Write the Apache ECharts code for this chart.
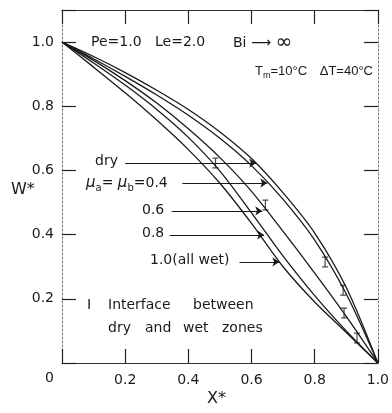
<!DOCTYPE html>
<html><head><meta charset="utf-8">
<script src="https://cdn.jsdelivr.net/npm/echarts@6/dist/echarts.min.js"></script>
<style>html,body{margin:0;padding:0;background:#fff}#c{width:392px;height:413px}</style>
</head><body><div id="c"></div>
<script>
// ---- data ----
const xGrid = [0, 0.1, 0.2, 0.3, 0.4, 0.5, 0.6, 0.7, 0.8, 0.9, 1.0];
const wDry  = [1, 0.955, 0.905, 0.85, 0.79, 0.72, 0.637, 0.53, 0.405, 0.235, 0];
const wMu04 = [1, 0.948, 0.893, 0.835, 0.772, 0.70, 0.615, 0.51, 0.383, 0.215, 0];
const wMu06 = [1, 0.943, 0.88, 0.81, 0.73, 0.64, 0.535, 0.41, 0.28, 0.145, 0];
const wMu08 = [1, 0.935, 0.866, 0.79, 0.703, 0.598, 0.468, 0.333, 0.21, 0.10, 0];
const wMu10 = [1, 0.922, 0.842, 0.757, 0.665, 0.56, 0.435, 0.30, 0.19, 0.095, 0];
// interface markers (x*, W*)
const interfaceX = [0.486, 0.644, 0.833, 0.890, 0.893, 0.934];
const interfaceW = [0.623, 0.492, 0.315, 0.227, 0.156, 0.078];
// label arrows: [xStart, xEnd, W]
const arrowDry  = [0.200, 0.615, 0.623];
const arrowMu04 = [0.381, 0.650, 0.561];
const arrowMu06 = [0.347, 0.634, 0.474];
const arrowMu08 = [0.341, 0.640, 0.399];
const arrowMu10 = [0.562, 0.688, 0.315];
const xTicks = [0.2, 0.4, 0.6, 0.8, 1.0];
const yTicks = [0.2, 0.4, 0.6, 0.8, 1.0];

const zip = (xs, ys) => xs.map((x, i) => [x, ys[i]]);
const FONT = 'DejaVu Sans';
const INK = '#1a1a1a';

const curve = (d) => ({
  type: 'line', data: zip(xGrid, d), smooth: 0.3, showSymbol: false, symbol: 'none',
  lineStyle: { color: INK, width: 1.3 }, z: 3, silent: true
});
const arrow = (a) => ({ coords: [[a[0], a[2]], [a[1], a[2]]] });

const chart = echarts.init(document.getElementById('c'), null, { renderer: 'canvas' });
const tickStyle = { show: true, inside: true, length: 14, lineStyle: { color: '#222', width: 1.2 } };
const solidLine = { show: true, onZero: false, lineStyle: { color: '#333', width: 1.2 } };
const dotLine = { show: true, onZero: false, lineStyle: { color: '#777', width: 1, type: [2, 2] } };
chart.setOption({
  animation: false,
  backgroundColor: '#fff',
  grid: { left: 62, right: 12, top: 10, bottom: 50 },
  xAxis: [
    { type: 'value', position: 'bottom', min: 0, max: 1.0, interval: 0.2,
      axisLine: solidLine, axisTick: tickStyle, splitLine: { show: false },
      axisLabel: { show: true, color: INK, fontFamily: FONT, fontSize: 14, margin: 10,
        formatter: v => (xTicks.indexOf(+v.toFixed(2)) >= 0 ? v.toFixed(1) : '') } },
    { type: 'value', position: 'top', min: 0, max: 1.0, interval: 0.2,
      axisLine: solidLine, axisTick: tickStyle, splitLine: { show: false }, axisLabel: { show: false } }
  ],
  yAxis: [
    { type: 'value', position: 'left', min: 0, max: 1.1, interval: 0.2,
      axisLine: dotLine, axisTick: tickStyle, splitLine: { show: false },
      axisLabel: { show: true, color: INK, fontFamily: FONT, fontSize: 14, margin: 8,
        formatter: v => (yTicks.indexOf(+v.toFixed(2)) >= 0 ? v.toFixed(1) : '') } },
    { type: 'value', position: 'right', min: 0, max: 1.1, interval: 0.2,
      axisLine: dotLine, axisTick: tickStyle, splitLine: { show: false }, axisLabel: { show: false } }
  ],
  series: [
    curve(wDry), curve(wMu04), curve(wMu06), curve(wMu08), curve(wMu10),
    {
      type: 'scatter', data: zip(interfaceX, interfaceW), z: 5,
      symbol: 'path://M0,0H8V1.6H4.8V12.4H8V14H0V12.4H3.2V1.6H0Z', symbolSize: [6, 11],
      itemStyle: { color: INK }
    },
    {
      type: 'lines', coordinateSystem: 'cartesian2d', z: 4,
      symbol: ['none', 'arrow'], symbolSize: 7,
      lineStyle: { color: INK, width: 1.2, opacity: 1 },
      itemStyle: { color: INK },
      data: [arrow(arrowDry), arrow(arrowMu04), arrow(arrowMu06), arrow(arrowMu08), arrow(arrowMu10)]
    }
  ],
  graphic: [
    { type: 'text', left: 91, top: 35, style: { text: 'Pe=1.0', fill: INK, font: '14px ' + FONT } },
    { type: 'text', left: 155, top: 35, style: { text: 'Le=2.0', fill: INK, font: '14px ' + FONT } },
    { type: 'text', left: 233, top: 33, style: {
      text: '{a|Bi} ⟶ {b|∞}', fill: INK, font: '14px ' + FONT,
      rich: { a: { fontSize: 14, fontFamily: FONT, fill: INK }, b: { fontSize: 20, fontFamily: FONT, fill: INK } } } },
    { type: 'text', left: 255, top: 65, style: {
      text: 'T{s|m}=10°C', fill: INK, font: '13px Liberation Sans',
      rich: { s: { fontSize: 9, fontFamily: 'Liberation Sans', padding: [9, 0, 0, 0], fill: INK } } } },
    { type: 'text', right: 19, top: 65, style: { text: 'ΔT=40°C', fill: INK, font: '13px Liberation Sans' } },
    { type: 'text', left: 95, top: 154, style: { text: 'dry', fill: INK, font: '14px ' + FONT } },
    { type: 'text', left: 86, top: 176, style: {
      text: '{m|μ}{s|a}= {m|μ}{s|b}=0.4', fill: INK, font: '14px ' + FONT,
      rich: { m: { fontSize: 15, fontFamily: FONT, fontStyle: 'italic', fill: INK },
              s: { fontSize: 10, fontFamily: FONT, padding: [9, 0, 0, 0], fill: INK } } } },
    { type: 'text', left: 142, top: 203, style: { text: '0.6', fill: INK, font: '14px ' + FONT } },
    { type: 'text', left: 142, top: 226, style: { text: '0.8', fill: INK, font: '14px ' + FONT } },
    { type: 'text', left: 150, top: 253, style: { text: '1.0(all wet)', fill: INK, font: '14px ' + FONT } },
    { type: 'text', left: 87, top: 298, style: { text: 'I', fill: INK, font: '14px ' + FONT } },
    { type: 'text', left: 108, top: 298, style: { text: 'Interface', fill: INK, font: '14px ' + FONT } },
    { type: 'text', left: 193, top: 298, style: { text: 'between', fill: INK, font: '14px ' + FONT } },
    { type: 'text', left: 108, top: 321, style: { text: 'dry', fill: INK, font: '14px ' + FONT } },
    { type: 'text', left: 145, top: 321, style: { text: 'and', fill: INK, font: '14px ' + FONT } },
    { type: 'text', left: 183, top: 321, style: { text: 'wet', fill: INK, font: '14px ' + FONT } },
    { type: 'text', left: 222, top: 321, style: { text: 'zones', fill: INK, font: '14px ' + FONT } },
    { type: 'text', left: 45, top: 371, style: { text: '0', fill: INK, font: '14px ' + FONT } },
    { type: 'text', left: 11, top: 182, style: { text: 'W*', fill: INK, font: '16px ' + FONT } },
    { type: 'text', left: 207, top: 391, style: { text: 'X*', fill: INK, font: '16px ' + FONT } }
  ]
});
</script></body></html>
